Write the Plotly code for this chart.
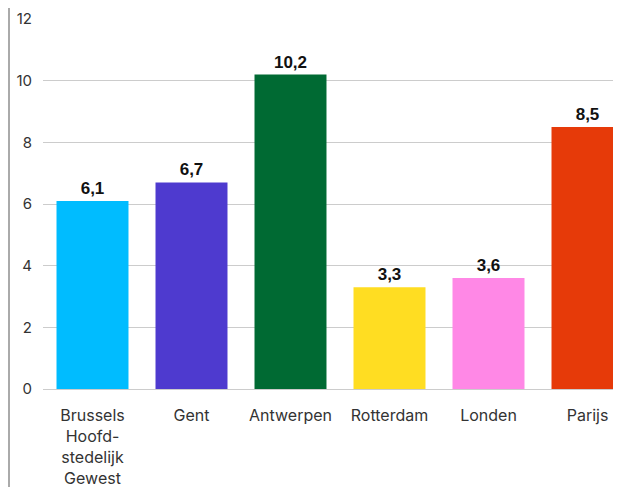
import plotly.graph_objects as go

categories = ["Brussels<br>Hoofd-<br>stedelijk<br>Gewest", "Gent", "Antwerpen", "Rotterdam", "Londen", "Parijs"]
values = [6.1, 6.7, 10.2, 3.3, 3.6, 8.5]
colors = ["#00BCFF", "#4E3ACF", "#006A33", "#FFDD22", "#FF88E6", "#E63A09"]
y_ticks = [0, 2, 4, 6, 8, 10, 12]

labels = [f"{v:.1f}".replace(".", ",") for v in values]

# page adds an 8px body margin, so the figure is sized/offset to compensate
W, H = 613, 479
L, T, B = 35, 11, 98
pw = W - L
ph = H - T - B
bar_step = 99.0
x_right = -0.5 + pw / bar_step

fig = go.Figure(go.Bar(
    x=list(range(len(categories))), y=values,
    marker=dict(color=colors, line=dict(width=0)),
    text=labels, textposition="outside", cliponaxis=False,
    textfont=dict(family="Liberation Sans", size=17, color="#111111", weight="bold"),
))

fig.update_layout(
    width=W, height=H,
    margin=dict(l=L, r=0, t=T, b=B),
    plot_bgcolor="white", paper_bgcolor="white",
    bargap=0.273, showlegend=False,
    font=dict(family="Inter", color="#333333", size=16),
    xaxis=dict(
        tickmode="array", tickvals=list(range(len(categories))), ticktext=categories,
        range=[-0.5, x_right], showgrid=False, zeroline=False,
        ticks="outside", ticklen=12, tickcolor="rgba(0,0,0,0)",
        tickfont=dict(size=16, color="#333333"),
    ),
    yaxis=dict(
        range=[0, 12], tickvals=y_ticks, showgrid=True, gridcolor="#CCCCCC",
        gridwidth=1, zeroline=True, zerolinecolor="#CCCCCC", zerolinewidth=1,
        ticklabelstandoff=10, tickfont=dict(size=15, color="#333333"),
    ),
)

fig.add_shape(type="line", xref="paper", yref="paper",
              x0=(1 - L) / pw, x1=(1 - L) / pw,
              y0=-B / ph, y1=(H - B) / ph,
              line=dict(color="#AAAAAA", width=2))

fig.write_html("out.html")
